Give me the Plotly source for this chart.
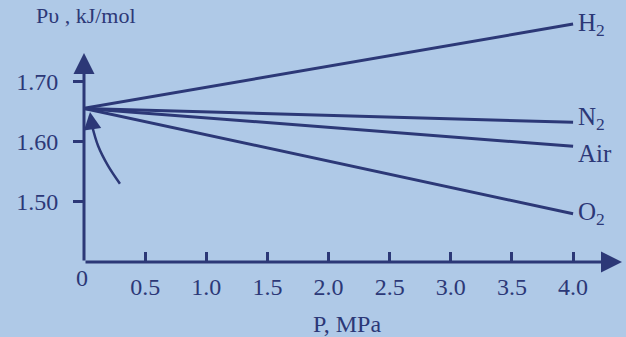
import plotly.graph_objects as go

# Pressure range (MPa) at which each gas line is evaluated
pressure = [0.0, 4.0]

# Pv (kJ/mol) at the start and end of the pressure range
gases = ["H<sub>2</sub>", "N<sub>2</sub>", "Air", "O<sub>2</sub>"]
pv_start = [1.655, 1.655, 1.655, 1.655]
pv_end = [1.795, 1.632, 1.592, 1.480]

# Tick values and labels
x_ticks = [0.5, 1.0, 1.5, 2.0, 2.5, 3.0, 3.5, 4.0]
x_tick_text = ["0.5", "1.0", "1.5", "2.0", "2.5", "3.0", "3.5", "4.0"]
y_ticks = [1.50, 1.60, 1.70]
y_tick_text = ["1.50", "1.60", "1.70"]

# Low-pressure curve approaching the common intercept
curve_p = [0.294, 0.196, 0.115, 0.065, 0.049]
curve_pv = [1.530, 1.560, 1.593, 1.627, 1.643]

# Axis extents
x_min, x_max = 0.0, 4.4
y_min, y_max = 1.40, 1.815
y_axis_top = 1.747

INK = "#2c3877"
BG = "#afc9e7"
SERIF = "Liberation Serif, Times New Roman, serif"

fig = go.Figure()

for name, a, b in zip(gases, pv_start, pv_end):
    fig.add_trace(go.Scatter(
        x=pressure, y=[a, b], mode="lines",
        line=dict(color=INK, width=3), name=name, hoverinfo="skip",
    ))

fig.add_trace(go.Scatter(
    x=curve_p, y=curve_pv, mode="lines",
    line=dict(color=INK, width=2.5, shape="spline"), hoverinfo="skip",
))

annotations = []

# Gas labels at the right end of each line
label_dy = [0.0, 0.006, -0.012, 0.0]
for name, b, dy in zip(gases, pv_end, label_dy):
    annotations.append(dict(
        x=pressure[-1], y=b + dy, xref="x", yref="y", text=name,
        showarrow=False, xanchor="left", xshift=3,
        font=dict(family=SERIF, size=25, color=INK),
    ))

# Arrowhead on the low-pressure curve
annotations.append(dict(
    x=curve_p[-1], y=curve_pv[-1] + 0.006, ax=curve_p[-2], ay=curve_pv[-2],
    xref="x", yref="y", axref="x", ayref="y", text="",
    showarrow=True, arrowhead=2, arrowsize=1.4, arrowwidth=2.5, arrowcolor=INK,
))

# Axes drawn as arrows
annotations.append(dict(
    x=0, y=y_axis_top, ax=0, ay=y_min, xref="x", yref="y", axref="x", ayref="y",
    text="", showarrow=True, arrowhead=2, arrowsize=1.4, arrowwidth=3, arrowcolor=INK,
))
annotations.append(dict(
    x=x_max, y=y_min, ax=0, ay=y_min, xref="x", yref="y", axref="x", ayref="y",
    text="", showarrow=True, arrowhead=2, arrowsize=1.4, arrowwidth=3, arrowcolor=INK,
))

# Origin, axis titles
annotations.append(dict(
    x=0, y=y_min, xref="x", yref="y", text="0", showarrow=False,
    xanchor="center", yanchor="top", xshift=-2, yshift=-1,
    font=dict(family=SERIF, size=24, color=INK),
))
annotations.append(dict(
    x=2.15, y=0, xref="x", yref="paper", text="P, MPa", showarrow=False,
    xanchor="center", yanchor="top", yshift=-47,
    font=dict(family=SERIF, size=24, color=INK),
))
annotations.append(dict(
    x=-0.093, y=1.045, xref="paper", yref="paper", text="Pυ , kJ/mol",
    showarrow=False, xanchor="left", yanchor="top",
    font=dict(family=SERIF, size=22, color=INK),
))

fig.update_layout(
    width=626, height=337,
    margin=dict(l=84, r=4, t=12, b=75),
    paper_bgcolor=BG, plot_bgcolor=BG,
    showlegend=False,
    annotations=annotations,
    xaxis=dict(
        range=[x_min, x_max], tickvals=x_ticks, ticktext=x_tick_text,
        ticks="inside", ticklen=10, tickwidth=2.5, tickcolor=INK,
        showgrid=False, zeroline=False, showline=False,
        tickfont=dict(family=SERIF, size=24, color=INK),
        ticklabelstandoff=8,
    ),
    yaxis=dict(
        range=[y_min, y_max], tickvals=y_ticks, ticktext=y_tick_text,
        ticks="outside", ticklen=10, tickwidth=2.5, tickcolor=INK,
        showgrid=False, zeroline=False, showline=False,
        tickfont=dict(family=SERIF, size=24, color=INK),
        ticklabelstandoff=10,
    ),
)

fig.write_html("out.html")
